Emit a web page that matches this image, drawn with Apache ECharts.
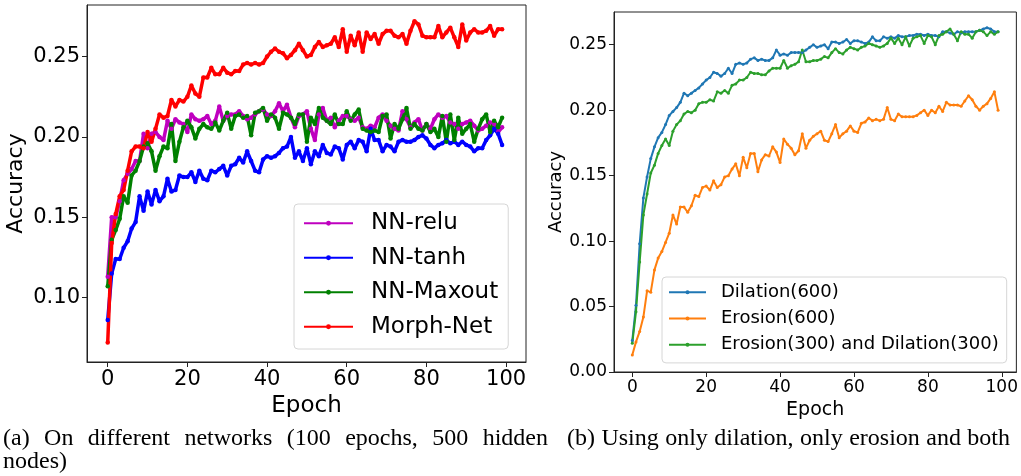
<!DOCTYPE html>
<html>
<head>
<meta charset="utf-8">
<script src="https://cdn.jsdelivr.net/npm/echarts@6/dist/echarts.min.js"></script>
<style>
html, body { margin: 0; padding: 0; background: #fff; }
#main { width: 1021px; height: 476px; }
</style>
</head>
<body>
<div id="main"></div>
<script>
// tick labels
var epochTicks = [0, 20, 40, 60, 80, 100];
var accTicksA = [0.10, 0.15, 0.20, 0.25];
var accTicksB = [0.00, 0.05, 0.10, 0.15, 0.20, 0.25];

// (a) different networks, one value per epoch 0..99
var nnRelu = [0.113,0.150,0.150,0.160,0.173,0.177,0.180,0.185,0.185,0.202,
  0.193,0.202,0.203,0.200,0.198,0.210,0.205,0.211,0.209,0.208,
  0.203,0.214,0.211,0.210,0.211,0.213,0.208,0.210,0.219,0.210,
  0.213,0.214,0.214,0.216,0.213,0.211,0.212,0.214,0.216,0.217,
  0.214,0.213,0.216,0.221,0.216,0.220,0.212,0.206,0.213,0.214,
  0.216,0.205,0.198,0.214,0.218,0.210,0.212,0.206,0.210,0.213,
  0.213,0.211,0.210,0.212,0.206,0.205,0.207,0.206,0.212,0.214,
  0.210,0.207,0.205,0.204,0.216,0.211,0.206,0.209,0.211,0.204,
  0.208,0.205,0.211,0.214,0.212,0.213,0.209,0.208,0.205,0.208,
  0.209,0.210,0.207,0.204,0.205,0.207,0.209,0.208,0.203,0.206];
var nnTanh = [0.086,0.115,0.124,0.124,0.131,0.135,0.143,0.147,0.163,0.154,
  0.166,0.158,0.167,0.160,0.163,0.174,0.166,0.167,0.176,0.175,
  0.175,0.178,0.172,0.179,0.174,0.173,0.179,0.178,0.180,0.182,
  0.176,0.182,0.183,0.187,0.184,0.191,0.185,0.179,0.178,0.186,
  0.188,0.187,0.188,0.190,0.193,0.194,0.200,0.187,0.191,0.185,
  0.193,0.183,0.191,0.188,0.195,0.190,0.189,0.194,0.193,0.186,
  0.195,0.197,0.193,0.198,0.197,0.191,0.205,0.198,0.198,0.191,
  0.195,0.194,0.191,0.197,0.198,0.197,0.197,0.198,0.200,0.201,
  0.199,0.195,0.193,0.195,0.196,0.198,0.196,0.197,0.195,0.197,
  0.195,0.194,0.191,0.193,0.193,0.198,0.201,0.205,0.202,0.195];
var nnMaxout = [0.107,0.136,0.142,0.149,0.163,0.159,0.176,0.179,0.185,0.194,
  0.196,0.191,0.179,0.188,0.194,0.193,0.208,0.185,0.197,0.206,
  0.210,0.206,0.199,0.205,0.208,0.206,0.205,0.209,0.204,0.210,
  0.215,0.205,0.213,0.214,0.212,0.213,0.201,0.215,0.216,0.218,
  0.210,0.214,0.212,0.205,0.215,0.214,0.212,0.208,0.214,0.214,
  0.197,0.212,0.208,0.218,0.212,0.210,0.208,0.214,0.208,0.208,
  0.216,0.210,0.214,0.217,0.205,0.204,0.203,0.204,0.203,0.213,
  0.214,0.199,0.208,0.205,0.211,0.218,0.205,0.208,0.205,0.204,
  0.208,0.203,0.205,0.200,0.213,0.197,0.214,0.198,0.212,0.202,
  0.205,0.208,0.197,0.205,0.211,0.214,0.203,0.210,0.206,0.212];
var morphNet = [0.072,0.134,0.152,0.163,0.167,0.179,0.191,0.194,0.194,0.193,
  0.203,0.197,0.205,0.214,0.212,0.213,0.223,0.219,0.223,0.222,
  0.225,0.232,0.227,0.225,0.237,0.237,0.243,0.239,0.239,0.243,
  0.240,0.239,0.241,0.241,0.245,0.246,0.245,0.246,0.245,0.246,
  0.250,0.253,0.255,0.253,0.252,0.249,0.251,0.254,0.258,0.254,
  0.250,0.251,0.256,0.259,0.256,0.257,0.258,0.262,0.256,0.267,
  0.253,0.263,0.257,0.265,0.253,0.265,0.261,0.264,0.258,0.264,
  0.266,0.266,0.263,0.262,0.264,0.258,0.266,0.272,0.270,0.263,
  0.262,0.262,0.262,0.269,0.262,0.265,0.268,0.262,0.256,0.270,
  0.260,0.265,0.267,0.265,0.265,0.266,0.269,0.263,0.267,0.267];

// (b) dilation / erosion, one value per epoch 0..99
var dilation600 = [0.024,0.051,0.098,0.133,0.149,0.163,0.172,0.179,0.183,0.189,
  0.196,0.199,0.202,0.206,0.213,0.211,0.213,0.215,0.217,0.220,
  0.223,0.225,0.229,0.228,0.226,0.228,0.232,0.228,0.235,0.236,
  0.235,0.236,0.239,0.240,0.238,0.239,0.238,0.238,0.240,0.246,
  0.242,0.243,0.242,0.244,0.244,0.244,0.244,0.246,0.248,0.250,
  0.248,0.249,0.250,0.247,0.252,0.252,0.251,0.252,0.254,0.251,
  0.253,0.253,0.252,0.251,0.252,0.256,0.253,0.253,0.256,0.255,
  0.256,0.255,0.257,0.256,0.256,0.257,0.257,0.258,0.258,0.257,
  0.258,0.257,0.257,0.256,0.260,0.260,0.259,0.258,0.260,0.259,
  0.260,0.260,0.260,0.260,0.261,0.262,0.263,0.262,0.260,0.260];
var erosion600 = [0.013,0.023,0.031,0.042,0.062,0.061,0.078,0.087,0.092,0.099,
  0.106,0.120,0.113,0.126,0.126,0.122,0.127,0.135,0.134,0.141,
  0.142,0.139,0.146,0.141,0.143,0.149,0.150,0.155,0.159,0.150,
  0.164,0.156,0.167,0.167,0.153,0.162,0.166,0.165,0.172,0.168,
  0.160,0.178,0.174,0.171,0.166,0.169,0.182,0.171,0.177,0.180,
  0.182,0.184,0.177,0.176,0.182,0.189,0.179,0.182,0.184,0.188,
  0.184,0.183,0.190,0.191,0.194,0.192,0.193,0.192,0.193,0.202,
  0.193,0.192,0.197,0.195,0.195,0.195,0.195,0.196,0.198,0.200,
  0.196,0.200,0.198,0.203,0.199,0.206,0.204,0.204,0.204,0.203,
  0.207,0.211,0.208,0.203,0.200,0.203,0.205,0.209,0.214,0.200];
var erosionDilation = [0.022,0.046,0.084,0.120,0.136,0.152,0.158,0.167,0.173,0.178,
  0.173,0.184,0.189,0.192,0.197,0.199,0.198,0.200,0.205,0.206,
  0.206,0.208,0.207,0.214,0.213,0.215,0.213,0.219,0.220,0.223,
  0.223,0.225,0.229,0.228,0.228,0.227,0.227,0.230,0.232,0.232,
  0.232,0.238,0.232,0.234,0.235,0.237,0.246,0.237,0.237,0.238,
  0.238,0.239,0.241,0.240,0.244,0.247,0.244,0.243,0.246,0.248,
  0.247,0.246,0.248,0.249,0.251,0.250,0.249,0.248,0.249,0.251,
  0.255,0.251,0.255,0.250,0.256,0.249,0.255,0.256,0.257,0.251,
  0.257,0.256,0.250,0.257,0.258,0.260,0.262,0.258,0.253,0.260,
  0.258,0.258,0.255,0.260,0.261,0.260,0.257,0.260,0.258,0.260];

function pts(arr) {
    return arr.map(function(v, i) { return [i, v]; });
}

var sansFont = 'DejaVu Sans';
var capFont = 'Liberation Serif';
var capSize = 24;

// lay words out justified between x0 and x1
function captionLine(text, x0, x1, y) {
    var ctx = document.createElement('canvas').getContext('2d');
    ctx.font = capSize + 'px "' + capFont + '"';
    var words = text.split(' ');
    var widths = words.map(function(w) { return ctx.measureText(w).width; });
    var total = widths.reduce(function(a, b) { return a + b; }, 0);
    var gap = words.length > 1 ? (x1 - x0 - total) / (words.length - 1) : 0;
    var x = x0;
    return words.map(function(w, i) {
        var el = {
            type: 'text', x: x, y: y,
            style: { text: w, font: capSize + 'px "' + capFont + '"', fill: '#000', verticalAlign: 'middle' }
        };
        x += widths[i] + gap;
        return el;
    });
}

function xAx(idx, min, max, fs, gap) {
    return {
        type: 'value', gridIndex: idx, min: min, max: max,
        name: 'Epoch', nameLocation: 'middle', nameGap: gap,
        nameTextStyle: { fontFamily: sansFont, fontSize: fs + 2, color: '#000' },
        axisLine: { show: true, onZero: false, lineStyle: { color: '#222', width: 1 } },
        axisTick: { show: true, length: 5, lineStyle: { color: '#222' }, customValues: epochTicks },
        axisLabel: { fontFamily: sansFont, fontSize: fs, color: '#000', margin: 7, customValues: epochTicks },
        splitLine: { show: false }
    };
}

function yAx(idx, min, max, ticks, fs, gap) {
    return {
        type: 'value', gridIndex: idx, min: min, max: max,
        name: 'Accuracy', nameLocation: 'middle', nameGap: gap,
        nameTextStyle: { fontFamily: sansFont, fontSize: fs + 1, color: '#000' },
        axisLine: { show: true, onZero: false, lineStyle: { color: '#222', width: 1 } },
        axisTick: { show: true, length: 5, lineStyle: { color: '#222' }, customValues: ticks },
        axisLabel: {
            fontFamily: sansFont, fontSize: fs, color: '#000', margin: 7, customValues: ticks,
            formatter: function(v) { return v.toFixed(2); }
        },
        splitLine: { show: false }
    };
}

function lineSeries(name, data, color, width, gi) {
    return {
        name: name, type: 'line', data: pts(data),
        xAxisIndex: gi, yAxisIndex: gi,
        symbol: 'circle', symbolSize: width + 1, showSymbol: true,
        lineStyle: { color: color, width: width },
        itemStyle: { color: color },
        animation: false
    };
}

var chart = echarts.init(document.getElementById('main'));
var graphics = []
    .concat(captionLine('(a) On different networks (100 epochs, 500 hidden', 3, 548, 439))
    .concat(captionLine('nodes)', 3, 3, 462))
    .concat(captionLine('(b) Using only dilation, only erosion and both', 567, 1010, 439));

chart.setOption({
    backgroundColor: '#fff',
    animation: false,
    grid: [
        { left: 87, top: 5, width: 439, height: 357, show: true, borderColor: '#222', borderWidth: 1 },
        { left: 614, top: 12, width: 404, height: 360, show: true, borderColor: '#222', borderWidth: 1 }
    ],
    xAxis: [xAx(0, -5.2, 105, 21, 21), xAx(1, -4.95, 103.95, 17, 17)],
    yAxis: [yAx(0, 0.0599, 0.2821, accTicksA, 21, 60), yAx(1, 0, 0.275, accTicksB, 17, 43)],
    legend: [
        {
            data: ['NN-relu', 'NN-tanh', 'NN-Maxout', 'Morph-Net'],
            orient: 'vertical', left: 294, top: 204,
            itemWidth: 49, itemHeight: 6, itemGap: 0,
            padding: [2, 10, 5, 9],
            backgroundColor: 'rgba(255,255,255,0.8)', borderColor: '#d6d6d6', borderWidth: 1, borderRadius: 4,
            textStyle: { fontFamily: sansFont, fontSize: 23, lineHeight: 34.5, color: '#000', padding: [0, 0, 0, 13] }
        },
        {
            data: ['Dilation(600)', 'Erosion(600)', 'Erosion(300) and Dilation(300)'],
            orient: 'vertical', left: 662, top: 277,
            itemWidth: 37, itemHeight: 5, itemGap: 0,
            padding: [2, 8, 5, 6],
            backgroundColor: 'rgba(255,255,255,0.8)', borderColor: '#d6d6d6', borderWidth: 1, borderRadius: 4,
            textStyle: { fontFamily: sansFont, fontSize: 18, lineHeight: 26.3, color: '#000', padding: [0, 0, 0, 10] }
        }
    ],
    series: [
        lineSeries('NN-relu', nnRelu, '#bf00bf', 3.5, 0),
        lineSeries('NN-tanh', nnTanh, '#0000ff', 3.5, 0),
        lineSeries('NN-Maxout', nnMaxout, '#008000', 3.5, 0),
        lineSeries('Morph-Net', morphNet, '#ff0000', 3.5, 0),
        lineSeries('Dilation(600)', dilation600, '#1f77b4', 2, 1),
        lineSeries('Erosion(600)', erosion600, '#ff7f0e', 2, 1),
        lineSeries('Erosion(300) and Dilation(300)', erosionDilation, '#2ca02c', 2, 1)
    ],
    graphic: graphics
});
</script>
</body>
</html>
